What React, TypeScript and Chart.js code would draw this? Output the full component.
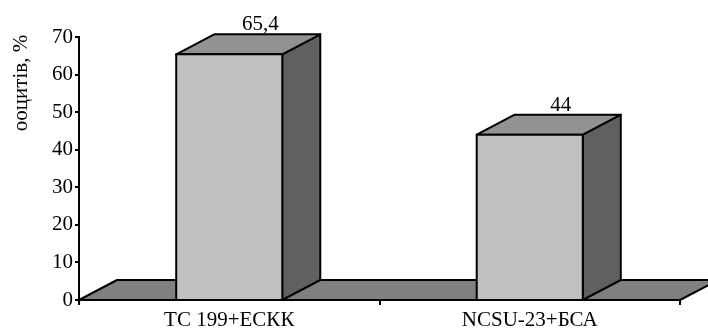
import React, { useEffect, useRef } from "react";
import { Chart, registerables } from "chart.js";

Chart.register(...registerables);

const categories = ["TC 199+ЕСКК", "NCSU-23+БСА"];
const values = [65.4, 44];
const valueLabels = ["65,4", "44"];
const yTitle = "ооцитів, %";

const FONT = "'Liberation Serif', 'Times New Roman', serif";
const FS = 21;
const DX = 38;
const DY = 20;

const threeD = {
  id: "threeD",
  beforeDatasetsDraw(chart: any) {
    const ctx = chart.ctx;
    const x = chart.scales.x;
    const y = chart.scales.y;
    const y0 = y.getPixelForValue(0);
    const l = x.left;
    const r = x.right;
    ctx.save();
    ctx.beginPath();
    ctx.moveTo(l, y0);
    ctx.lineTo(l + DX, y0 - DY);
    ctx.lineTo(r + DX, y0 - DY);
    ctx.lineTo(r, y0);
    ctx.closePath();
    ctx.fillStyle = "#808080";
    ctx.fill();
    ctx.lineWidth = 2;
    ctx.strokeStyle = "#000";
    ctx.lineJoin = "round";
    ctx.stroke();
    ctx.restore();
  },
  afterDatasetsDraw(chart: any) {
    const ctx = chart.ctx;
    const meta = chart.getDatasetMeta(0);
    const y0 = chart.scales.y.getPixelForValue(0);
    ctx.save();
    ctx.lineWidth = 2;
    ctx.strokeStyle = "#000";
    ctx.lineJoin = "round";
    meta.data.forEach((bar: any, i: number) => {
      const w = bar.width;
      const xl = bar.x - w / 2;
      const xr = bar.x + w / 2;
      const yt = bar.y;
      // side
      ctx.beginPath();
      ctx.moveTo(xr, y0);
      ctx.lineTo(xr + DX, y0 - DY);
      ctx.lineTo(xr + DX, yt - DY);
      ctx.lineTo(xr, yt);
      ctx.closePath();
      ctx.fillStyle = "#606060";
      ctx.fill();
      ctx.stroke();
      // top
      ctx.beginPath();
      ctx.moveTo(xl, yt);
      ctx.lineTo(xl + DX, yt - DY);
      ctx.lineTo(xr + DX, yt - DY);
      ctx.lineTo(xr, yt);
      ctx.closePath();
      ctx.fillStyle = "#929292";
      ctx.fill();
      ctx.stroke();
      // front
      ctx.beginPath();
      ctx.rect(xl, yt, w, y0 - yt);
      ctx.fillStyle = "#c0c0c0";
      ctx.fill();
      ctx.stroke();
      // label
      ctx.fillStyle = "#000";
      ctx.font = `${FS}px ${FONT}`;
      ctx.textAlign = "center";
      ctx.textBaseline = "alphabetic";
      ctx.fillText(valueLabels[i], bar.x + 31, yt - DY - 4);
    });
    // y axis title
    ctx.save();
    ctx.translate(21, 83);
    ctx.rotate(-Math.PI / 2);
    ctx.font = `${FS}px ${FONT}`;
    ctx.textAlign = "center";
    ctx.textBaseline = "middle";
    ctx.fillStyle = "#000";
    ctx.fillText(yTitle, 0, 0);
    ctx.restore();
    ctx.restore();
  },
};

export default function App() {
  const ref = useRef<HTMLCanvasElement>(null);
  useEffect(() => {
    document.body.style.margin = "0";
    const chart = new Chart(ref.current!, {
      type: "bar",
      data: {
        labels: categories,
        datasets: [
          {
            data: values,
            backgroundColor: "rgba(0,0,0,0)",
            borderWidth: 0,
            barPercentage: 0.353,
            categoryPercentage: 1,
          },
        ],
      },
      options: {
        animation: false,
        responsive: false,
        maintainAspectRatio: false,
        layout: { padding: { top: 37, right: 28, left: 0, bottom: 0 } },
        plugins: { legend: { display: false }, tooltip: { enabled: false } },
        scales: {
          x: {
            offset: true,
            grid: {
              offset: true,
              drawOnChartArea: false,
              tickLength: 5,
              color: "#000",
              lineWidth: 2,
            },
            border: { color: "#000", width: 2 },
            ticks: { color: "#000", font: { family: FONT, size: FS }, padding: 3 },
            afterFit: (s: any) => {
              s.height = 33;
            },
          },
          y: {
            min: 0,
            max: 70,
            ticks: { stepSize: 10, color: "#000", font: { family: FONT, size: FS }, padding: 2 },
            grid: { drawOnChartArea: false, tickLength: 4, color: "#000", lineWidth: 2 },
            border: { color: "#000", width: 2 },
            afterFit: (s: any) => {
              s.width = 79;
            },
          },
        },
      },
      plugins: [threeD],
    });
    return () => chart.destroy();
  }, []);
  return <canvas ref={ref} width={708} height={333} style={{ display: "block" }} />;
}
